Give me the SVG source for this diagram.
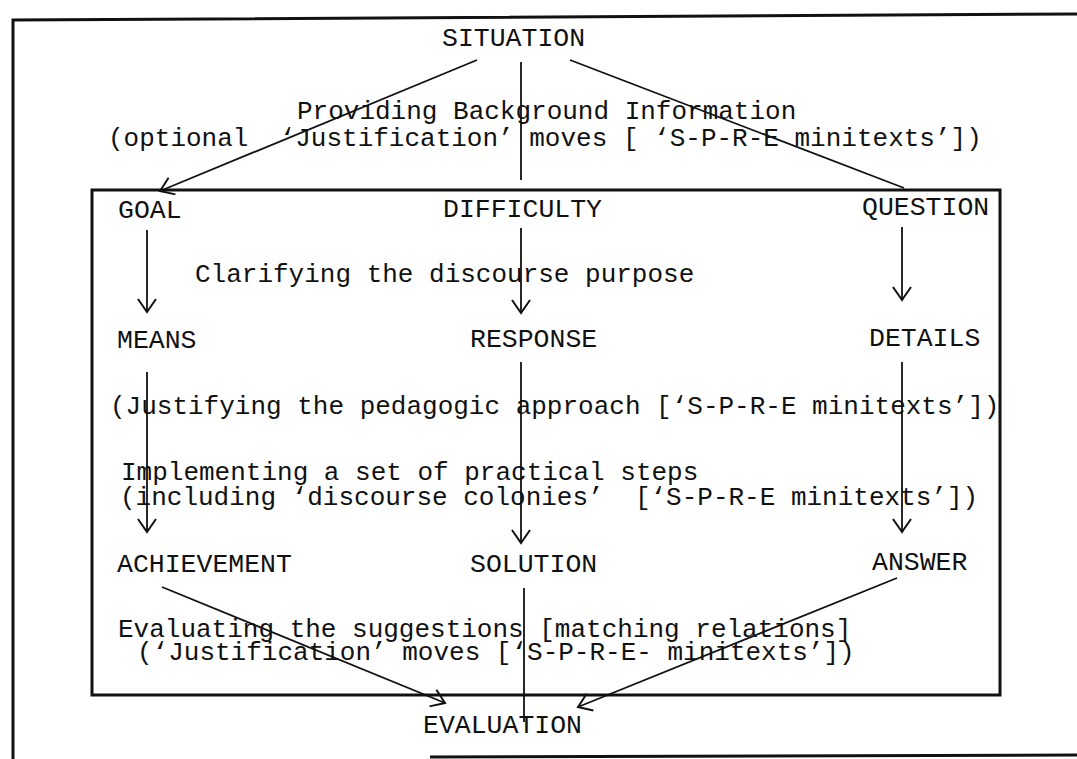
<svg xmlns="http://www.w3.org/2000/svg" width="1077" height="759" viewBox="0 0 1077 759">
<style>
text{font-family:"Liberation Mono","DejaVu Sans Mono",monospace;fill:#111;}
.lab{font-size:26.5px;}
.txt{font-size:26px;}
.frame{fill:none;stroke:#111;stroke-width:3;}
.conn line{stroke:#111;stroke-width:1.8;fill:none;}
</style>
<defs>
<marker id="ah" markerUnits="userSpaceOnUse" markerWidth="30" markerHeight="30" refX="0" refY="0" viewBox="-15 -15 30 30" orient="auto">
<path d="M-13,-9 L0,0 L-13,9" fill="none" stroke="#111" stroke-width="2"/>
</marker>
</defs>
<rect width="1077" height="759" fill="#fff"/>
<g id="frames">
<path class="frame" d="M13,759 L13,20 L1077,14"/>
<path class="frame" d="M430,757 L1077,755"/>
<rect class="frame" x="92" y="190" width="908" height="505"/>
</g>
<g id="connectors" class="conn">
<line x1="477" y1="60" x2="160" y2="191" marker-end="url(#ah)"/>
<line x1="521" y1="62" x2="521" y2="180"/>
<line x1="570" y1="60" x2="904" y2="188"/>
<line x1="521" y1="228" x2="521" y2="313" marker-end="url(#ah)"/>
<line x1="147" y1="230" x2="147" y2="312" marker-end="url(#ah)"/>
<line x1="902" y1="227" x2="902" y2="300" marker-end="url(#ah)"/>
<line x1="147" y1="372" x2="147" y2="532" marker-end="url(#ah)"/>
<line x1="521" y1="362" x2="521" y2="543" marker-end="url(#ah)"/>
<line x1="902" y1="362" x2="902" y2="532" marker-end="url(#ah)"/>
<line x1="162" y1="587" x2="445" y2="703" marker-end="url(#ah)"/>
<line x1="897" y1="578" x2="578" y2="707" marker-end="url(#ah)"/>
<line x1="524" y1="588" x2="524" y2="722"/>
</g>
<g id="situation"><text class="lab" x="442" y="46">SITUATION</text></g>
<g id="background"><text class="txt" x="297" y="119">Providing Background Information</text>
<text class="txt" x="108" y="146" xml:space="preserve">(optional  ‘Justification’ moves [ ‘S-P-R-E minitexts’])</text></g>
<g id="goal"><text class="lab" x="118" y="218">GOAL</text></g>
<g id="difficulty"><text class="lab" x="443" y="217">DIFFICULTY</text></g>
<g id="question"><text class="lab" x="862" y="215">QUESTION</text></g>
<g id="clarifying"><text class="txt" x="195" y="282">Clarifying the discourse purpose</text></g>
<g id="means"><text class="lab" x="117" y="348">MEANS</text></g>
<g id="response"><text class="lab" x="470" y="347">RESPONSE</text></g>
<g id="details"><text class="lab" x="869" y="346">DETAILS</text></g>
<g id="justifying"><text class="txt" x="110" y="414">(Justifying the pedagogic approach [‘S-P-R-E minitexts’])</text></g>
<g id="implementing"><text class="txt" x="121" y="480">Implementing a set of practical steps</text>
<text class="txt" x="120" y="505" xml:space="preserve">(including ‘discourse colonies’  [‘S-P-R-E minitexts’])</text></g>
<g id="achievement"><text class="lab" x="117" y="572">ACHIEVEMENT</text></g>
<g id="solution"><text class="lab" x="470" y="572">SOLUTION</text></g>
<g id="answer"><text class="lab" x="872" y="570">ANSWER</text></g>
<g id="evaluating"><text class="txt" x="118" y="637">Evaluating the suggestions [matching relations]</text>
<text class="txt" x="137" y="660">(‘Justification’ moves [‘S-P-R-E- minitexts’])</text></g>
<g id="evaluation"><text class="lab" x="423" y="733">EVALUATION</text></g>
</svg>
